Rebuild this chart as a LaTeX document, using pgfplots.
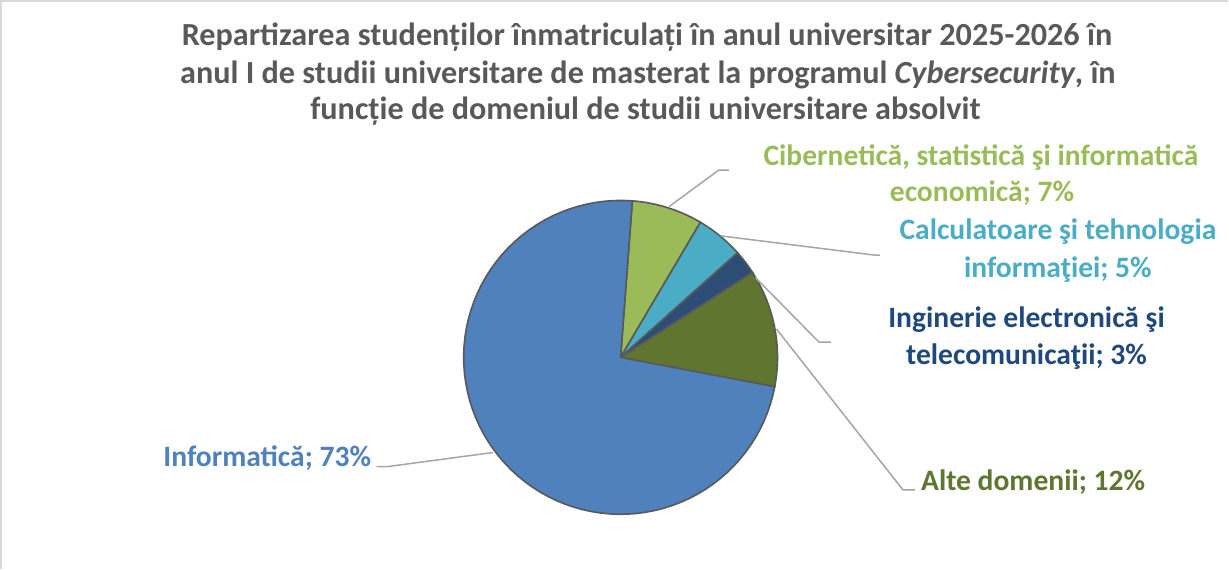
\documentclass[border=0pt]{standalone}
\usepackage{pgfplots}
\pgfplotsset{compat=1.18}
\usepackage{fontspec}
\setmainfont{Carlito}
\definecolor{titlegray}{HTML}{595959}
\definecolor{cgreen}{HTML}{9BBB59}
\definecolor{cteal}{HTML}{4BACC6}
\definecolor{cdblue}{HTML}{2C4D75}
\definecolor{tdblue}{HTML}{1F497D}
\definecolor{colive}{HTML}{5F7530}
\definecolor{cblue}{HTML}{4F81BD}
\definecolor{edge}{HTML}{595959}
\definecolor{leader}{HTML}{A6A6A6}
\definecolor{frame}{HTML}{D9D9D9}
% shares (percent), clockwise from the start angle
\def\vA{7.3}\def\vB{4.9}\def\vC{2.5}\def\vD{12.1}\def\vE{73.2}
\def\start{85.7}
\begin{document}
\begin{tikzpicture}
\begin{axis}[
  width=614.5pt, height=282.5pt, scale only axis,
  xmin=0, xmax=1229, ymin=0, ymax=565,
  hide axis, clip=false,
]
% frame
\addplot[frame, line width=1pt, no marks] coordinates {(7,0) (7,561) (1219,561)};
% pie slices
\pgfplotsset{pie/.style={line width=0.8pt, draw=edge, samples=80, variable=\t, no marks}}
\addplot[pie, fill=cgreen, domain={\start}:{\start-3.6*\vA}] ({619+155*cos(t)},{209+155*sin(t)}) -- (619,209) -- cycle;
\addplot[pie, fill=cteal, domain={\start-3.6*\vA}:{\start-3.6*(\vA+\vB)}] ({619+155*cos(t)},{209+155*sin(t)}) -- (619,209) -- cycle;
\addplot[pie, fill=cdblue, domain={\start-3.6*(\vA+\vB)}:{\start-3.6*(\vA+\vB+\vC)}] ({619+155*cos(t)},{209+155*sin(t)}) -- (619,209) -- cycle;
\addplot[pie, fill=colive, domain={\start-3.6*(\vA+\vB+\vC)}:{\start-3.6*(\vA+\vB+\vC+\vD)}] ({619+155*cos(t)},{209+155*sin(t)}) -- (619,209) -- cycle;
\addplot[pie, fill=cblue, domain={\start-3.6*(\vA+\vB+\vC+\vD)}:{\start-3.6*(\vA+\vB+\vC+\vD+\vE)}] ({619+155*cos(t)},{209+155*sin(t)}) -- (619,209) -- cycle;
% leader lines
\pgfplotsset{lead/.style={leader, line width=0.75pt, no marks}}
\addplot[lead] coordinates {(667,358) (716,394) (726,394)};
\addplot[lead] coordinates {(718,329) (870,310) (875,310)};
\addplot[lead] coordinates {(752,288) (815,224) (827,224)};
\addplot[lead] coordinates {(773,237) (898,78) (910,78)};
\addplot[lead] coordinates {(493,115) (388,101) (378,101)};
% title
\tikzset{tt/.style={anchor=base, inner sep=0pt, text=titlegray, font=\fontsize{15.9}{18}\selectfont\bfseries}}
\node[tt] at (axis cs:645,517) {Repartizarea studenților înmatriculați în anul universitar 2025-2026 în};
\node[tt] at (axis cs:646,480) {anul I de studii universitare de masterat la programul \textit{Cybersecurity}, în};
\node[tt] at (axis cs:643.5,444) {funcție de domeniul de studii universitare absolvit};
% labels
\tikzset{lb/.style={anchor=base, inner sep=0pt, font=\fontsize{14.6}{17}\selectfont\bfseries}}
\node[lb, text=cgreen] at (axis cs:975,399) {Cibernetică, statistică şi informatică};
\node[lb, text=cgreen] at (axis cs:976,363.3) {economică; 7\%};
\node[lb, text=cteal] at (axis cs:1051,325) {Calculatoare şi tehnologia};
\node[lb, text=cteal] at (axis cs:1051,288.3) {informaţiei; 5\%};
\node[lb, text=tdblue] at (axis cs:1020,238.3) {Inginerie electronică şi};
\node[lb, text=tdblue] at (axis cs:1020,202.3) {telecomunicaţii; 3\%};
\node[lb, text=colive] at (axis cs:1026.5,77.7) {Alte domenii; 12\%};
\node[lb, text=cblue] at (axis cs:270,101) {Informatică; 73\%};
\end{axis}
\end{tikzpicture}
\end{document}
